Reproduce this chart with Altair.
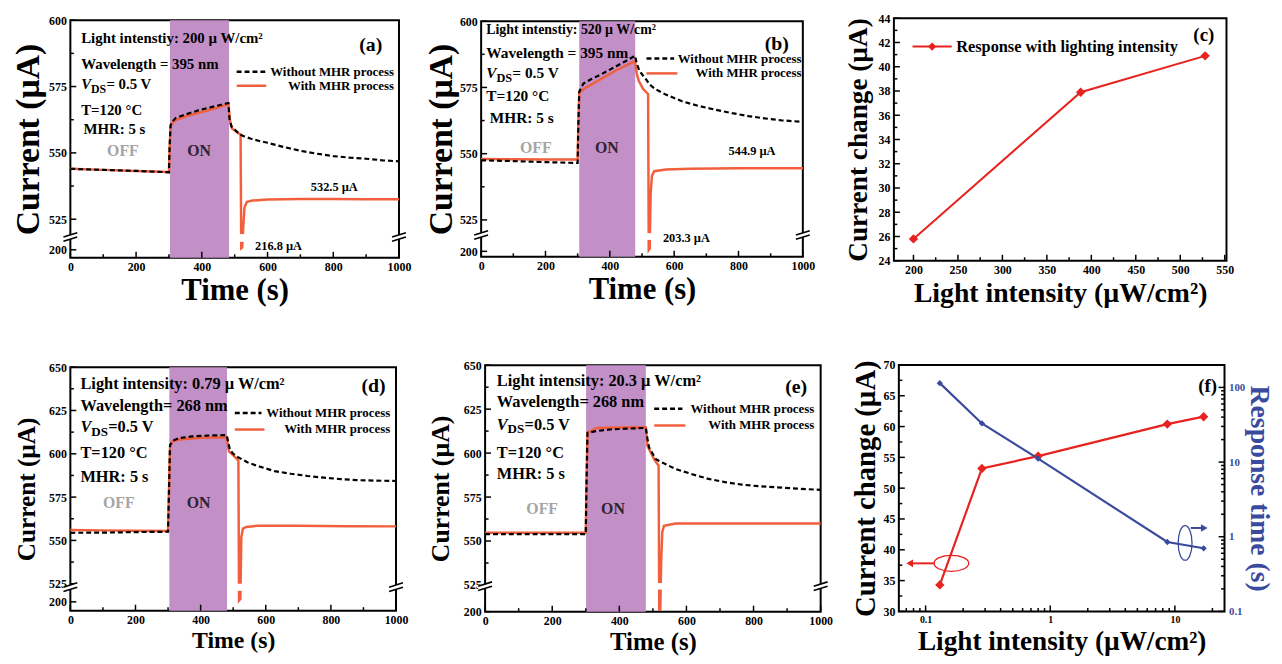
import altair as alt
import pandas as pd

SERIF = "Liberation Serif"
PURPLE = "#c28fc6"
MHR_RED = "#f15f3d"
RED = "#e8221e"
BLUE = "#3a4a9c"
GREY = "#a5a5a5"
DARK = "#2e2430"

# ---------------- data: panel (a) ----------------
a_t_without = [0, 100, 200, 300, 302, 305, 312, 321, 351, 391, 441, 481, 484, 490, 500, 515, 530, 550, 575, 600, 650, 700, 750, 800, 850, 900, 950, 1000]
a_without = [544.0, 543.6, 543.2, 542.7, 552.0, 560.5, 562.0, 563.2, 564.5, 566.1, 567.6, 568.8, 563.0, 560.0, 558.8, 557.0, 556.2, 555.3, 554.5, 553.8, 552.2, 550.8, 549.7, 548.8, 548.2, 547.8, 547.2, 546.8]
a_t_with = [0, 100, 200, 300, 302, 305, 312, 321, 351, 391, 441, 481, 486, 492, 505, 512, 518, 520, 523, 526, 530, 537, 550, 600, 700, 800, 900, 1000]
a_with = [544.0, 543.6, 543.2, 542.8, 552.0, 560.0, 561.5, 562.4, 563.8, 565.1, 566.8, 568.4, 562.0, 559.2, 558.0, 557.3, 557.0, 201.0, 201.5, 522.0, 529.5, 531.5, 532.0, 532.4, 532.6, 532.6, 532.5, 532.5]

# ---------------- data: panel (b) ----------------
b_t_without = [0, 100, 200, 300, 302, 305, 318, 340, 369, 420, 450, 472, 478, 484, 492, 503, 513, 523, 540, 574, 626, 677, 728, 780, 831, 882, 933, 1000]
b_without = [547.5, 547.2, 546.8, 546.5, 560.0, 573.5, 576.5, 578.0, 579.7, 583.0, 585.0, 586.5, 587.0, 584.0, 581.2, 579.5, 578.0, 576.2, 574.5, 572.3, 569.7, 568.0, 566.6, 565.3, 564.2, 563.3, 562.6, 562.0]
b_t_with = [0, 100, 200, 300, 302, 305, 320, 370, 420, 470, 478, 484, 490, 503, 515, 519, 521, 524, 527, 531, 538, 574, 650, 800, 1000]
b_with = [548.0, 547.9, 547.8, 547.8, 560.0, 573.0, 574.5, 578.0, 581.5, 584.5, 585.0, 580.0, 577.5, 574.5, 573.0, 572.5, 200.5, 201.0, 535.0, 541.6, 543.4, 544.0, 544.3, 544.5, 544.5]

# ---------------- data: panel (d) ----------------
d_t_without = [0, 100, 200, 300, 303, 306, 315, 333, 373, 420, 480, 490, 500, 515, 545, 576, 627, 677, 728, 779, 830, 880, 940, 1000]
d_without = [554.4, 554.5, 554.8, 555.0, 580.0, 605.0, 607.5, 609.0, 610.0, 610.5, 610.8, 602.3, 600.0, 598.0, 595.0, 592.9, 590.0, 588.5, 587.2, 586.2, 585.4, 584.8, 584.5, 584.3]
d_t_with = [0, 100, 200, 300, 303, 306, 312, 333, 400, 480, 487, 505, 513, 516, 518, 522, 525, 530, 540, 576, 700, 850, 1000]
d_with = [556.0, 555.8, 555.6, 555.5, 580.0, 603.4, 607.0, 608.2, 609.3, 609.5, 601.4, 598.2, 596.6, 596.0, 200.5, 201.0, 552.0, 556.8, 557.8, 558.5, 558.4, 558.2, 558.1]

# ---------------- data: panel (e) ----------------
e_t_without = [0, 100, 200, 300, 302, 305, 330, 371, 420, 479, 484, 489, 509, 540, 568, 617, 666, 715, 764, 813, 862, 931, 1000]
e_without = [553.9, 553.9, 553.9, 553.9, 580.0, 611.5, 612.5, 613.4, 613.9, 614.3, 608.0, 603.1, 596.5, 593.5, 590.9, 588.0, 585.3, 583.5, 582.1, 581.2, 580.6, 579.8, 579.1]
e_t_with = [0, 100, 200, 300, 302, 305, 332, 400, 479, 484, 504, 514, 517, 519, 522, 525, 528, 533, 568, 700, 850, 1000]
e_with = [554.7, 554.7, 554.7, 554.7, 580.0, 611.5, 614.3, 614.5, 614.7, 604.0, 596.5, 593.7, 593.0, 201.0, 201.0, 540.0, 555.0, 558.6, 560.0, 560.0, 560.0, 560.0]

# ---------------- data: panel (c) ----------------
c_intensity = [200, 388, 528]
c_change = [25.8, 37.9, 40.9]

# ---------------- data: panel (f) ----------------
f_intensity = [0.13, 0.283, 0.80, 8.69, 17.0]
f_change = [34.3, 53.2, 55.2, 60.4, 61.6]
f_response = [114, 32.9, 11.1, 0.85, 0.70]

time_ticks = [0, 200, 400, 600, 800, 1000]
time_minor = [100, 300, 500, 700, 900]

SLASH_FILL = "M -0.8 0 L 0.8 -0.5 L 0.8 0 L -0.8 0.5 Z"
SLASH_LINES = "M -0.8 0 L 0.8 -0.5 M -0.8 0.5 L 0.8 0"
ELLIPSE_H = "M -1 0 A 1 0.46 0 0 0 1 0 A 1 0.46 0 0 0 -1 0 Z"
ELLIPSE_V = "M 0 -1 A 0.4 1 0 0 0 0 1 A 0.4 1 0 0 0 0 -1 Z"


def frame(**cols):
    return pd.DataFrame(cols)


def text(X, Y, x, y, s, size, color="black", align="left", style="normal", dx=0, dy=0):
    return alt.Chart(frame(x=[x], y=[y], s=[s])).mark_text(
        font=SERIF, fontWeight="bold", fontStyle=style, fontSize=size, color=color,
        align=align, baseline="middle", dx=dx, dy=dy).encode(x=X, y=Y, text="s:N")


def xticks(X, vals, H, size):
    return alt.Chart(frame(x=vals)).mark_rule(color="black", strokeWidth=1.5).encode(
        x=X, y=alt.value(H), y2=alt.value(H - size))


def yticks(Y, vals, size, field="y", at=0, inward=1):
    return alt.Chart(pd.DataFrame({field: vals})).mark_rule(color="black", strokeWidth=1.5).encode(
        y=Y, x=alt.value(at), x2=alt.value(at + inward * size))


def vds(X, Y, x, y, fs, rest):
    return [
        text(X, Y, x, y, "V", fs, style="italic"),
        text(X, Y, x, y, "DS", fs * 0.8, dx=fs * 0.66, dy=fs * 0.3),
        text(X, Y, x, y, rest, fs, dx=fs * 1.7),
    ]


def ts_panel(p):
    W, H = p["W"], p["H"]
    X = alt.X("x:Q", scale=alt.Scale(domain=[0, 1000], nice=False, zero=False),
              axis=alt.Axis(values=time_ticks, format="d", title="Time (s)", titleFontSize=p["xtfs"],
                            titlePadding=p["xtpad"]))
    Y = alt.Y("y:Q", scale=alt.Scale(domain=p["ydom"], range=p["yrng"], nice=False, zero=False),
              axis=alt.Axis(values=p["yticks"], title="Current (µA)", titleFontSize=p["ytfs"],
                            titlePadding=p["ytpad"]))
    L = []
    L.append(alt.Chart(frame(x=[p["on"][0]], x2=[p["on"][1]])).mark_rect(color=PURPLE).encode(
        x=X, x2="x2:Q", y=alt.value(0), y2=alt.value(H)))
    L.append(alt.Chart(frame(x=p["t_with"], y=p["with"])).mark_line(
        color=MHR_RED, strokeWidth=2.5).encode(x=X, y=Y))
    L.append(alt.Chart(frame(x=[505], x2=[540], y=[p["gap"][0]], y2=[p["gap"][1]])).mark_rect(
        color="white").encode(x=X, x2="x2:Q", y=Y, y2="y2:Q"))
    L.append(alt.Chart(frame(x=p["t_without"], y=p["without"])).mark_line(
        color="black", strokeWidth=2.2, strokeDash=[5, 3]).encode(x=X, y=Y))
    # ticks
    L.append(xticks(X, time_ticks, H, 6))
    L.append(xticks(X, time_minor, H, 3.5))
    L.append(yticks(Y, p["yticks"], 6))
    L.append(yticks(Y, p["yminor"], 3.5))
    # axis breaks
    L.append(alt.Chart(frame(x=[0, 1000], y=[p["brk"], p["brk"]])).mark_point(
        shape=SLASH_FILL, filled=True, fill="white", fillOpacity=1, strokeOpacity=0, size=306, opacity=1
    ).encode(x=X, y=Y))
    L.append(alt.Chart(frame(x=[0, 1000], y=[p["brk"], p["brk"]])).mark_point(
        shape=SLASH_LINES, filled=False, stroke="black", strokeWidth=1.6, size=306, opacity=1
    ).encode(x=X, y=Y))
    # annotations
    fs = p["fs"]
    a = p["ann"]
    L.append(text(X, Y, a["x"], a["y"][0], p["line1"], p.get("fs1", fs)))
    L.append(text(X, Y, a["x"], a["y"][1], p["line2"], fs))
    L += vds(X, Y, a["x"], a["y"][2], fs, p["vds"])
    L.append(text(X, Y, a["x"], a["y"][3], "T=120 °C", fs))
    L.append(text(X, Y, a["xm"], a["y"][4], "MHR: 5 s", fs))
    L.append(text(X, Y, a["off"][0], a["off"][2], "OFF", 16, color=GREY, align="center"))
    L.append(text(X, Y, a["off"][1], a["off"][2], "ON", 16, color=DARK, align="center"))
    L.append(text(X, Y, a["lab"][0], a["lab"][1], p["label"], 20, align="center"))
    lg = a["leg"]
    L.append(alt.Chart(frame(x=[lg[0]], x2=[lg[1]], y=[lg[2]])).mark_rule(
        color="black", strokeWidth=2.5, strokeDash=[5, 3]).encode(x=X, x2="x2:Q", y=Y))
    L.append(alt.Chart(frame(x=[lg[0]], x2=[lg[3]], y=[lg[4]])).mark_rule(
        color=MHR_RED, strokeWidth=2.5).encode(x=X, x2="x2:Q", y=Y))
    L.append(text(X, Y, lg[5], lg[2], "Without MHR process", 13, align="right"))
    L.append(text(X, Y, lg[5], lg[4], "With MHR process", 13, align="right"))
    for (x, y, s, al) in a.get("vals", []):
        L.append(text(X, Y, x, y, s, 12.5, align=al))
    return alt.layer(*L).properties(width=W, height=H)


pa = ts_panel(dict(
    W=332, H=240, ydom=[195, 208, 518.3, 600], yrng=[240, 219, 219, 0],
    yticks=[200, 525, 550, 575, 600], yminor=[537.5, 562.5, 587.5], brk=518.3, gap=[205, 519.4],
    on=[303, 483], t_with=a_t_with, **{"with": a_with}, t_without=a_t_without, without=a_without,
    xtfs=31, xtpad=3, ytfs=34, ytpad=3, fs=15, label="(a)",
    line1="Light intenstiy: 200 µ W/cm²", line2="Wavelength = 395 nm", vds="= 0.5 V",
    ann=dict(x=33, xm=40, y=[593.3, 583.3, 575.9, 566.0, 559.0], off=[160, 392, 550.7],
             lab=[914, 590.8], leg=[506, 593, 580.6, 596, 575.3, 985],
             vals=[(803, 537.3, "532.5 µA", "center"), (562, 202.4, "216.8 µA", "left")]),
))

pb = ts_panel(dict(
    W=325, H=238, ydom=[198, 206, 519.3, 600], yrng=[238, 216, 216, 0],
    yticks=[200, 525, 550, 575, 600], yminor=[537.5, 562.5, 587.5], brk=519.3, gap=[204.2, 520],
    on=[305, 479], t_with=b_t_with, **{"with": b_with}, t_without=b_t_without, without=b_without,
    xtfs=31, xtpad=3, ytfs=34, ytpad=1, fs=15.5, fs1=14, label="(b)",
    line1="Light intenstiy: 520 µ W/cm²", line2="Wavelength = 395 nm", vds="= 0.5 V",
    ann=dict(x=16, xm=27, y=[596.5, 587.8, 580.3, 571.6, 563.5], off=[170, 391, 552.3],
             lab=[919, 591.5], leg=[514, 600, 585.9, 610, 580.3, 996],
             vals=[(842, 551, "544.9 µA", "center"), (565, 204.8, "203.3 µA", "left")]),
))

pd_ = ts_panel(dict(
    W=329, H=246, ydom=[197, 205, 523, 650], yrng=[246, 222.3, 222.3, 0],
    yticks=[200, 525, 550, 575, 600, 625, 650], yminor=[537.5, 562.5, 587.5, 612.5, 637.5],
    brk=523, gap=[203.75, 525],
    on=[304, 481], t_with=d_t_with, **{"with": d_with}, t_without=d_t_without, without=d_without,
    xtfs=24, xtpad=3, ytfs=25.5, ytpad=9, fs=16.5, label="(d)",
    line1="Light intensity: 0.79 µ W/cm²", line2="Wavelength= 268 nm", vds="=0.5 V",
    ann=dict(x=31, xm=31, y=[640.1, 627.7, 615.4, 600.2, 586.8], off=[149, 394, 571.6],
             lab=[931, 639.2], leg=[505, 587, 623.6, 596, 614.0, 982]),
))

pe = ts_panel(dict(
    W=339, H=249, ydom=[200, 212, 524.3, 650], yrng=[249, 223.3, 223.3, 0],
    yticks=[200, 525, 550, 575, 600, 625, 650], yminor=[537.5, 562.5, 587.5, 612.5, 637.5],
    brk=524.3, gap=[210.4, 526.1],
    on=[301, 479], t_with=e_t_with, **{"with": e_with}, t_without=e_t_without, without=e_without,
    xtfs=25, xtpad=3, ytfs=26, ytpad=10, fs=16.5, label="(e)",
    line1="Light intensity: 20.3 µ W/cm²", line2="Wavelength= 268 nm", vds="=0.5 V",
    ann=dict(x=35, xm=35, y=[641.0, 629.0, 616.2, 600.3, 588.0], off=[170, 381, 568.4],
             lab=[927, 637.3], leg=[504, 588, 625.2, 597, 615.7, 981]),
))


def panel_c():
    W, H = 336, 245
    X = alt.X("x:Q", scale=alt.Scale(domain=[178, 552], nice=False, zero=False),
              axis=alt.Axis(values=list(range(200, 551, 50)), title="Light intensity (µW/cm²)",
                            titleFontSize=28, titlePadding=4))
    Y = alt.Y("y:Q", scale=alt.Scale(domain=[24, 44], nice=False, zero=False),
              axis=alt.Axis(values=list(range(24, 45, 2)), title="Current change (µA)",
                            titleFontSize=27.5, titlePadding=6))
    L = [
        alt.Chart(frame(x=c_intensity, y=c_change)).mark_line(color=RED, strokeWidth=2).encode(x=X, y=Y),
        alt.Chart(frame(x=c_intensity, y=c_change)).mark_point(
            shape="diamond", filled=True, color=RED, size=90, opacity=1).encode(x=X, y=Y),
        xticks(X, list(range(200, 551, 50)), H, 6),
        xticks(X, list(range(225, 551, 50)), H, 3.5),
        yticks(Y, list(range(24, 45, 2)), 6),
        yticks(Y, list(range(25, 44, 2)), 3.5),
        alt.Chart(frame(x=[199], x2=[243], y=[41.66])).mark_rule(color=RED, strokeWidth=2).encode(
            x=X, x2="x2:Q", y=Y),
        alt.Chart(frame(x=[221], y=[41.66])).mark_point(
            shape="diamond", filled=True, color=RED, size=70, opacity=1).encode(x=X, y=Y),
        text(X, Y, 248, 41.66, "Response with lighting intensity", 16.5),
        text(X, Y, 526.5, 42.6, "(c)", 19, align="center"),
    ]
    return alt.layer(*L).properties(width=W, height=H)


def panel_f():
    W, H = 329, 249
    X = alt.X("x:Q", scale=alt.Scale(type="log", domain=[0.061, 25], nice=False),
              axis=alt.Axis(values=[0.1, 1, 10], format="~g", title="Light intensity (µW/cm²)",
                            titleFontSize=27.5, titlePadding=3, labelFontSize=10, labelPadding=3))
    YL = alt.Y("y:Q", scale=alt.Scale(domain=[30, 70], nice=False, zero=False),
               axis=alt.Axis(values=list(range(30, 71, 5)), title="Current change (µA)",
                             titleFontSize=29, titlePadding=3))
    YR = alt.Y("r:Q", scale=alt.Scale(type="log", domain=[0.1, 200], nice=False),
               axis=alt.Axis(orient="right", values=[0.1, 1, 10, 100], format="~g",
                             title="Response time (s)", titleFontSize=28, titlePadding=0,
                             titleColor=BLUE, labelColor=BLUE, labelFontSize=11))
    x_minor = [0.07, 0.08, 0.09, 0.2, 0.3, 0.4, 0.5, 0.6, 0.7, 0.8, 0.9,
               2, 3, 4, 5, 6, 7, 8, 9, 20]
    r_minor = [0.2, 0.3, 0.4, 0.5, 0.6, 0.7, 0.8, 0.9, 2, 3, 4, 5, 6, 7, 8, 9,
               20, 30, 40, 50, 60, 70, 80, 90]
    left = alt.layer(
        alt.Chart(frame(x=f_intensity, y=f_change)).mark_line(color=RED, strokeWidth=2.2).encode(x=X, y=YL),
        alt.Chart(frame(x=f_intensity, y=f_change)).mark_point(
            shape="diamond", filled=True, color=RED, size=90, opacity=1).encode(x=X, y=YL),
        xticks(X, [0.1, 1, 10], H, 6),
        xticks(X, x_minor, H, 3.5),
        yticks(YL, list(range(30, 71, 5)), 6),
        yticks(YL, [32.5, 37.5, 42.5, 47.5, 52.5, 57.5, 62.5, 67.5], 3.5),
        alt.Chart(frame(x=[0.161], y=[37.8])).mark_point(
            shape=ELLIPSE_H, filled=False, stroke=RED, strokeWidth=1.3, size=1225, opacity=1).encode(x=X, y=YL),
        alt.Chart(frame(x=[0.117], x2=[0.077], y=[37.8])).mark_rule(color=RED, strokeWidth=2).encode(
            x=X, x2="x2:Q", y=YL),
        alt.Chart(frame(x=[0.0745], y=[37.8])).mark_point(
            shape="triangle-left", filled=True, color=RED, size=60, opacity=1).encode(x=X, y=YL),
        text(X, YL, 18.3, 66.6, "(f)", 19, align="center"),
    )
    right = alt.layer(
        alt.Chart(frame(x=f_intensity, r=f_response)).mark_line(color=BLUE, strokeWidth=2.2).encode(x=X, y=YR),
        alt.Chart(frame(x=f_intensity, r=f_response)).mark_point(
            shape="diamond", filled=True, color=BLUE, size=40, opacity=1).encode(x=X, y=YR),
        yticks(YR, [0.1, 1, 10, 100], 6, field="r", at=W, inward=-1),
        yticks(YR, r_minor, 3.5, field="r", at=W, inward=-1),
        alt.Chart(frame(x=[12.07], r=[0.827])).mark_point(
            shape=ELLIPSE_V, filled=False, stroke=BLUE, strokeWidth=1.3, size=1225, opacity=1).encode(x=X, y=YR),
        alt.Chart(frame(x=[13.4], x2=[16.6], r=[1.31])).mark_rule(color=BLUE, strokeWidth=2).encode(
            x=X, x2="x2:Q", y=YR),
        alt.Chart(frame(x=[17.2], r=[1.31])).mark_point(
            shape="triangle-right", filled=True, color=BLUE, size=60, opacity=1).encode(x=X, y=YR),
    )
    return alt.layer(left, right).resolve_scale(y="independent").properties(width=W, height=H)


pc = panel_c()
pf = panel_f()

row1 = alt.hconcat(alt.hconcat(pa, pb, spacing=12, center=True), pc, spacing=27, center=True)
row2 = alt.hconcat(alt.hconcat(pd_, pe, spacing=18, center=True), pf, spacing=16, center=True)

chart = alt.concat(row1, row2, columns=1, align="none", spacing=50).configure_view(
    stroke="black", strokeWidth=2
).configure_axis(
    labelFont=SERIF, labelFontWeight="bold", labelFontSize=12, labelColor="black",
    titleFont=SERIF, titleFontWeight="bold", titleColor="black",
    ticks=False, tickSize=0, domain=False, grid=False, labelFlush=False, labelOverlap=False,
    labelPadding=4,
).properties(padding={"left": 3, "top": 0, "right": 0, "bottom": 0})

chart.save("out.html", embed_options={"renderer": "svg", "actions": False})
